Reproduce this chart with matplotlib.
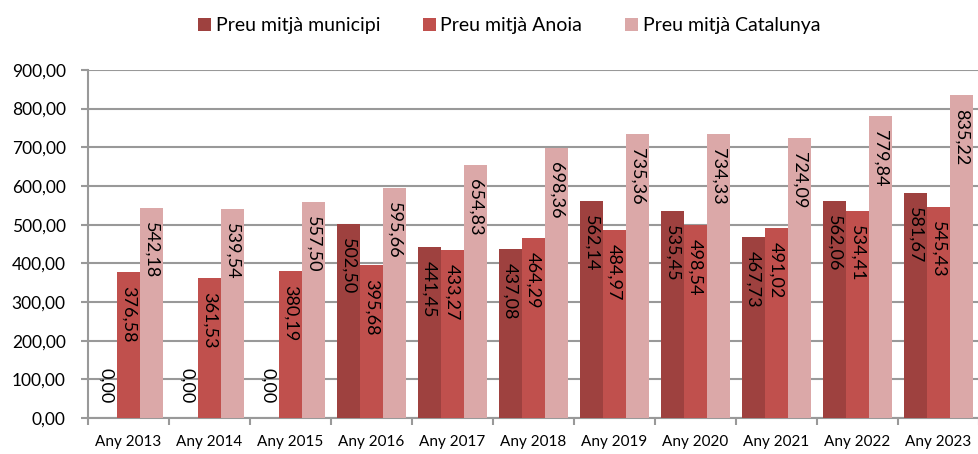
import numpy as np
import matplotlib.pyplot as plt

plt.rcParams['font.family'] = ['Lato', 'DejaVu Sans']

years = ['Any 2013', 'Any 2014', 'Any 2015', 'Any 2016', 'Any 2017', 'Any 2018',
         'Any 2019', 'Any 2020', 'Any 2021', 'Any 2022', 'Any 2023']
municipi = [0.00, 0.00, 0.00, 502.50, 441.45, 437.08, 562.14, 535.45, 467.73, 562.06, 581.67]
anoia = [376.58, 361.53, 380.19, 395.68, 433.27, 464.29, 484.97, 498.54, 491.02, 534.41, 545.43]
catalunya = [542.18, 539.54, 557.50, 595.66, 654.83, 698.36, 735.36, 734.33, 724.09, 779.84, 835.22]

series = [('Preu mitjà municipi', municipi, '#9e413f'),
          ('Preu mitjà Anoia', anoia, '#c0504d'),
          ('Preu mitjà Catalunya', catalunya, '#dba8a8')]


def fmt(v):
    return f'{v:,.2f}'.replace(',', ' ').replace('.', ',').replace(' ', '.')


fig = plt.figure(figsize=(9.79, 4.54), dpi=100)
ax = fig.add_axes([0.0899, 0.079, 0.9101, 0.767])

x = np.arange(len(years))
w = 0.285
for i, (name, vals, col) in enumerate(series):
    pos = x + (i - 1) * w
    ax.bar(pos, vals, w, color=col, label=name, zorder=3)
    for px, v in zip(pos, vals):
        if v == 0:
            ax.annotate(fmt(v), (px, 0), xytext=(0, 11), textcoords='offset points',
                        rotation=270, ha='center', va='bottom', fontsize=13, zorder=4)
        else:
            ax.annotate(fmt(v), (px, v), xytext=(0, -10), textcoords='offset points',
                        rotation=270, ha='center', va='top', fontsize=13, zorder=4)

ax.set_xlim(-0.5, len(years) - 0.5)
ax.set_ylim(0, 900)
ax.set_yticks(np.arange(0, 901, 100))
ax.set_yticklabels([fmt(v) for v in np.arange(0, 901, 100)], fontsize=12.5)
ax.set_xticks(x)
ax.set_xticklabels(years, fontsize=11)
ax.set_xticks(np.arange(-0.5, len(years), 1), minor=True)
ax.tick_params(axis='x', which='major', length=0, pad=12)
ax.tick_params(axis='x', which='minor', length=5, color='#999999', width=1.5)
ax.tick_params(axis='y', length=5, color='#999999', width=1.5, pad=11)

ax.grid(axis='y', color='#999999', linewidth=1.5, zorder=0)
for s in ['top', 'right']:
    ax.spines[s].set_visible(False)
for s in ['left', 'bottom']:
    ax.spines[s].set_color('#999999')
    ax.spines[s].set_linewidth(1.5)

fig.legend(loc='upper center', bbox_to_anchor=(0.52, 1.0), ncol=3, frameon=False,
           fontsize=14, handlelength=0.65, handleheight=0.65, columnspacing=2.2,
           handletextpad=0.25)

fig.savefig('out.png', dpi=100)
